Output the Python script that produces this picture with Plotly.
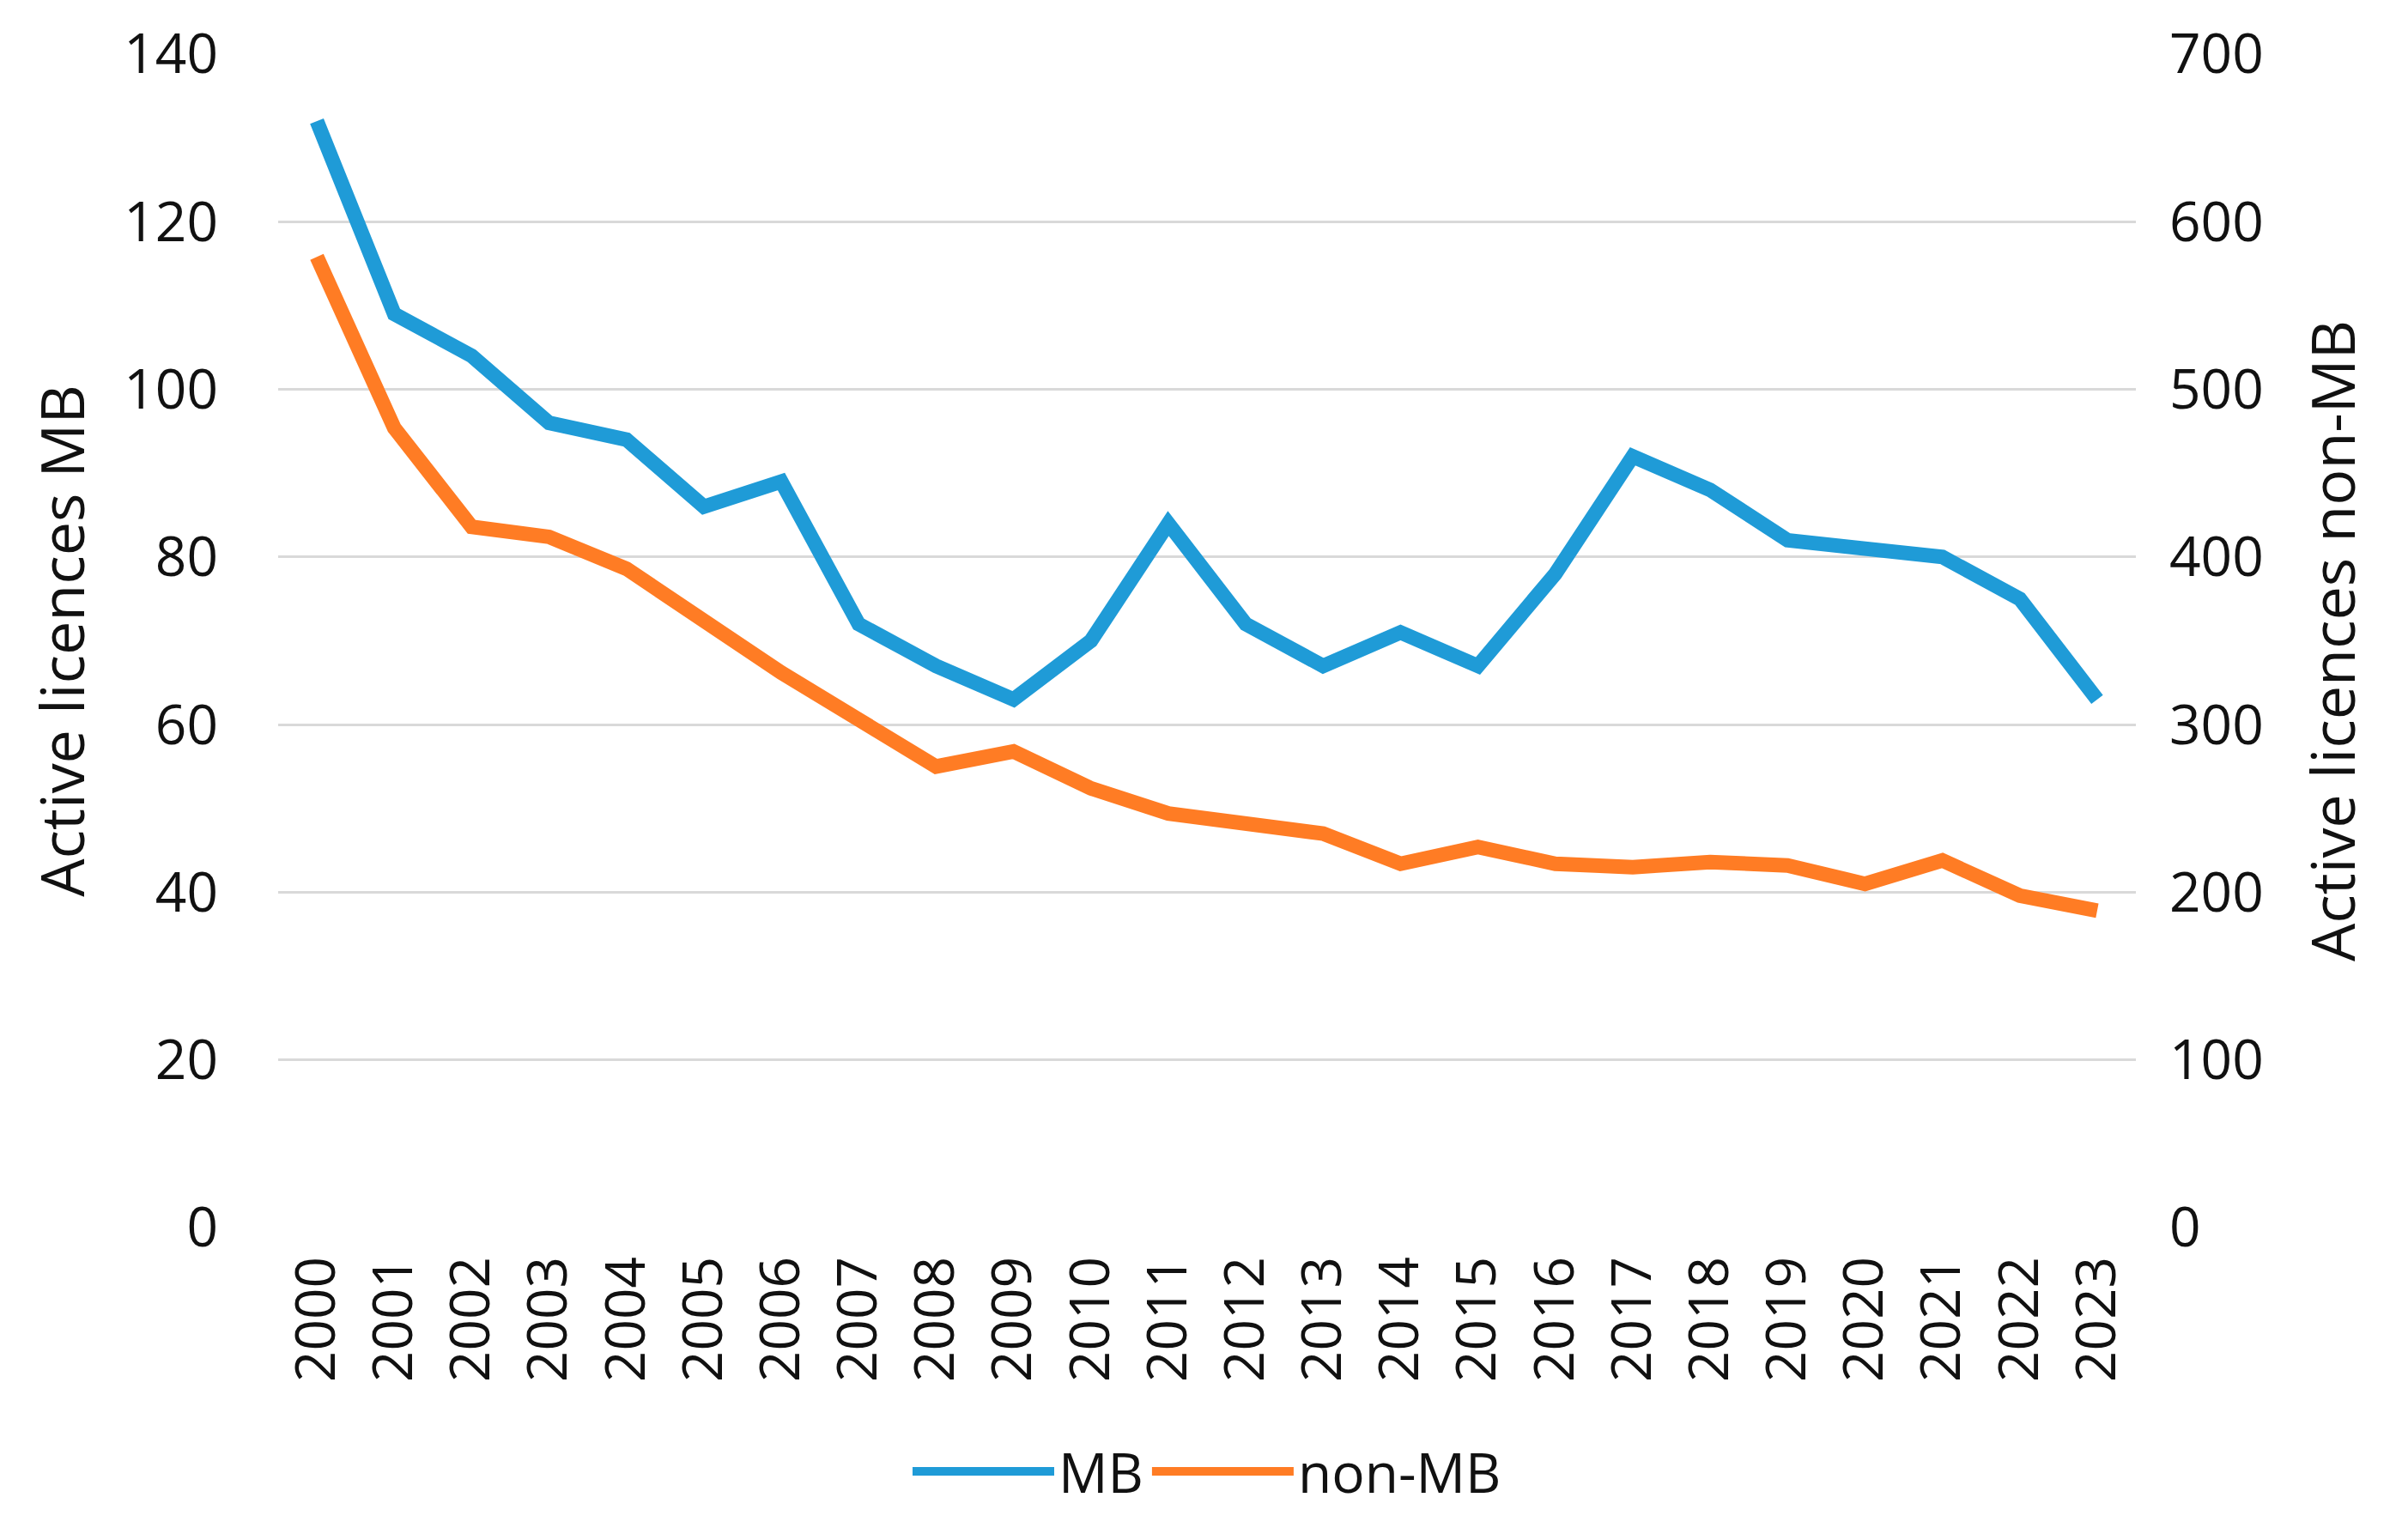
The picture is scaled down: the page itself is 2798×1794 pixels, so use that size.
import plotly.graph_objects as go

years = [str(y) for y in range(2000, 2024)]
mb = [132, 109, 104, 96, 94, 86, 89, 72, 67, 63, 70, 84, 72, 67, 71, 67, 78, 92, 88, 82, 81, 80, 75, 63]
non_mb = [579, 477, 418, 412, 393, 362, 331, 303, 275, 284, 262, 247, 240, 235, 217, 227, 217, 215, 218, 216, 205, 219, 198, 189]
left_ticks = [0, 20, 40, 60, 80, 100, 120, 140]
right_ticks = [0, 100, 200, 300, 400, 500, 600, 700]

BLUE = "#1F9BD7"
ORANGE = "#FF7C24"
FONT = "Open Sans"
TXT = "#111111"

fig = go.Figure()
fig.add_trace(go.Scatter(x=years, y=mb, name="MB", mode="lines",
                         line=dict(color=BLUE, width=17), yaxis="y"))
fig.add_trace(go.Scatter(x=years, y=non_mb, name="non-MB", mode="lines",
                         line=dict(color=ORANGE, width=17), yaxis="y2"))

fig.update_layout(
    width=2790, height=1786,
    margin=dict(l=316, r=310, t=55, b=364, autoexpand=False),
    paper_bgcolor="white", plot_bgcolor="white",
    font=dict(family=FONT, size=64, color=TXT),
    showlegend=True,
    legend=dict(orientation="h", x=0.5, xanchor="center", y=-0.208, yanchor="middle",
                font=dict(size=64, color=TXT), tracegroupgap=0, itemwidth=165),
    xaxis=dict(type="category", range=[-0.5, 23.5], tickangle=-90, showgrid=False,
               showline=False, zeroline=False, ticks="", ticklabelstandoff=20,
               tickfont=dict(size=64, color=TXT)),
    yaxis=dict(range=[0, 140], tickvals=left_ticks, showgrid=True, gridcolor="#D9D9D9",
               gridwidth=3, zeroline=False, showline=False, ticks="",
               ticklabelstandoff=69, tickfont=dict(size=64, color=TXT),
               title=dict(text="Active licences MB", font=dict(size=70, color=TXT), standoff=22)),
    yaxis2=dict(range=[0, 700], tickvals=right_ticks, overlaying="y", side="right",
                showgrid=False, zeroline=False, showline=False, ticks="",
                ticklabelstandoff=38, tickfont=dict(size=64, color=TXT),
                title=dict(text="Active licences non-MB", font=dict(size=70, color=TXT), standoff=58)),
)

fig.write_html("out.html")
